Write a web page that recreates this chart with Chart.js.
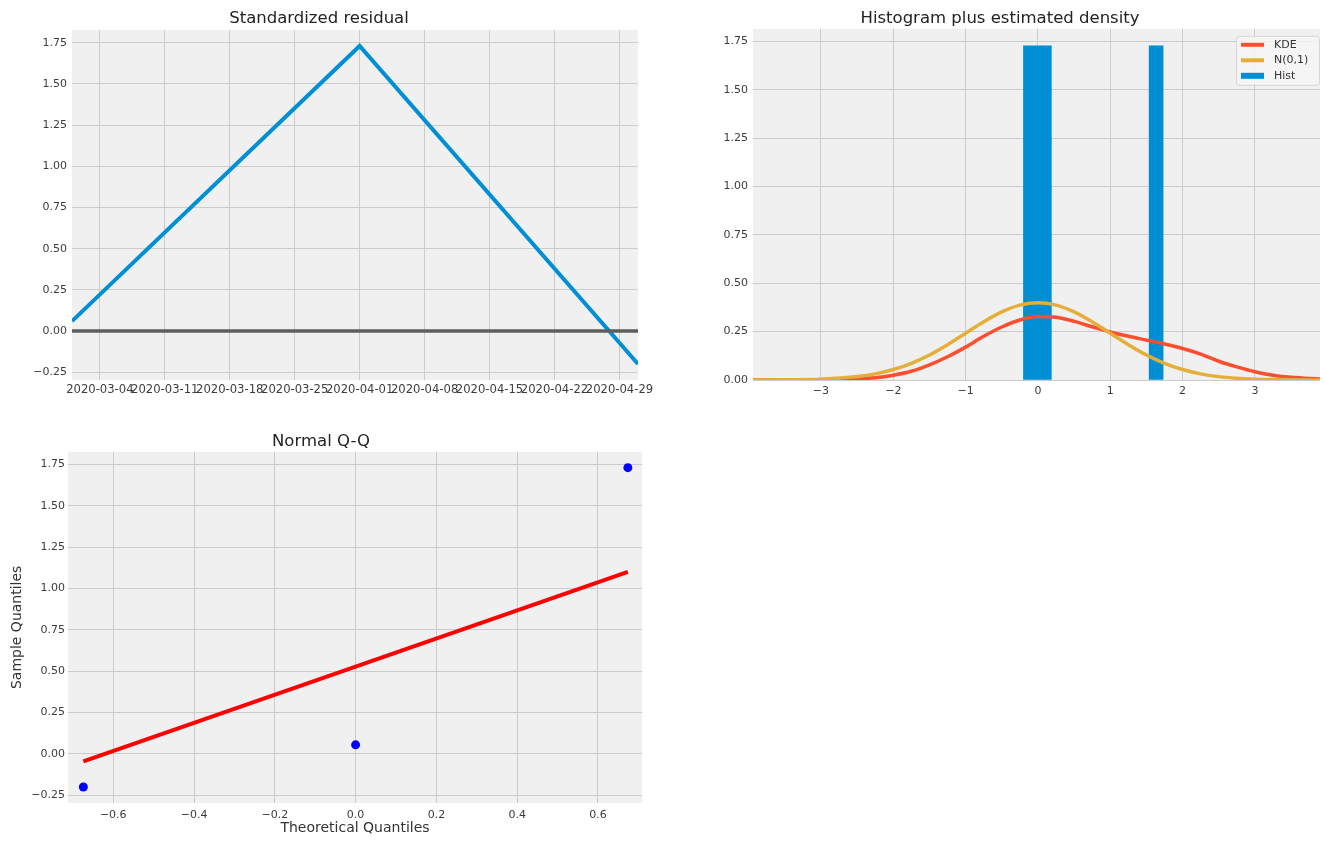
<!DOCTYPE html>
<html>
<head>
<meta charset="utf-8">
<script src="https://cdn.jsdelivr.net/npm/chart.js@4.4.1/dist/chart.umd.min.js"></script>
<style>
  html, body { margin: 0; padding: 0; background: #fff; }
  body { width: 1325px; height: 841px; position: relative; overflow: hidden; }
  .box { position: absolute; }
  #residBox { left: 0; top: 0; width: 660px; height: 400px; }
  #histBox { left: 680px; top: 0; width: 645px; height: 400px; }
  #qqBox { left: 0; top: 420px; width: 660px; height: 421px; }
</style>
</head>
<body>
<div class="box" id="residBox"><canvas id="resid"></canvas></div>
<div class="box" id="histBox"><canvas id="hist"></canvas></div>
<div class="box" id="qqBox"><canvas id="qq"></canvas></div>
<script>
// --- standardized residual
const residDates = ['2020-03-01', '2020-04-01', '2020-05-01'];
const residValues = [0.06, 1.73, -0.20];
const zeroValues = [0, 0];
const dateTicks = ['2020-03-04', '2020-03-11', '2020-03-18', '2020-03-25', '2020-04-01',
                   '2020-04-08', '2020-04-15', '2020-04-22', '2020-04-29'];
const residTicks = [-0.25, 0, 0.25, 0.5, 0.75, 1, 1.25, 1.5, 1.75];

// --- histogram plus estimated density
const histBinCenters = [-0.104, 0.089, 0.283, 0.476, 0.669, 0.862, 1.055, 1.248, 1.441, 1.634];
const histDensity = [1.727, 1.727, 0, 0, 0, 0, 0, 0, 0, 1.727];
const densityX = [-3.94, -3.5, -3, -2.5, -2.25, -2, -1.75, -1.5, -1.25, -1, -0.75, -0.5, -0.25, 0,
                  0.25, 0.5, 0.75, 1, 1.25, 1.5, 1.75, 2, 2.25, 2.5, 2.75, 3, 3.25, 3.5, 3.9];
const kdeValues = [0, 0.0002, 0.001, 0.006, 0.012, 0.025, 0.045, 0.078, 0.12, 0.17, 0.226, 0.274, 0.31, 0.328,
                   0.324, 0.303, 0.275, 0.248, 0.226, 0.206, 0.186, 0.163, 0.134, 0.097, 0.068, 0.043, 0.025, 0.014, 0.005];
const normValues = [0.0002, 0.0009, 0.0044, 0.0175, 0.0317, 0.054, 0.0863, 0.1295, 0.1826, 0.242, 0.3011, 0.3521, 0.3867, 0.3989,
                    0.3867, 0.3521, 0.3011, 0.242, 0.1826, 0.1295, 0.0863, 0.054, 0.0317, 0.0175, 0.0091, 0.0044, 0.002, 0.0009, 0.0002];
const histXTicks = [-3, -2, -1, 0, 1, 2, 3];
const histYTicks = [0, 0.25, 0.5, 0.75, 1, 1.25, 1.5, 1.75];

// --- normal Q-Q
const qqTheoretical = [-0.674, 0, 0.674];
const qqSample = [-0.20, 0.055, 1.73];
const qqLineX = [-0.674, 0.674];
const qqLineY = [-0.045, 1.10];
const qqXTicks = [-0.6, -0.4, -0.2, 0, 0.2, 0.4, 0.6];
const qqYTicks = [-0.25, 0, 0.25, 0.5, 0.75, 1, 1.25, 1.5, 1.75];

const FONT = "'DejaVu Sans', 'Liberation Sans', sans-serif";
const GRID = '#cbcbcb';
Chart.defaults.font.family = FONT;
Chart.defaults.color = '#3c3c3c';
Chart.defaults.animation = false;

const fmtNum = (v, d) => (v < 0 ? '\u2212' : '') + Math.abs(v).toFixed(d);
const dayNum = s => (Date.parse(s) - Date.parse(residDates[0])) / 86400000;

// pin axis box sizes so chart areas sit where the reference has them
function fixSize(size) {
  return function (scale) {
    if (scale.isHorizontal()) scale.height = size; else scale.width = size;
    scale.paddingLeft = scale.paddingRight = scale.paddingTop = scale.paddingBottom = 0;
  };
}
function setTicks(values) {
  return function (scale) { scale.ticks = values.map(v => ({ value: v })); };
}
function axis(opts) {
  return {
    type: 'linear',
    min: opts.min,
    max: opts.max,
    offset: false,
    afterBuildTicks: setTicks(opts.ticks),
    afterFit: fixSize(opts.size),
    grid: { color: GRID, lineWidth: 1, drawTicks: false, offset: false },
    border: { display: false },
    title: opts.title || { display: false },
    ticks: {
      padding: opts.pad, autoSkip: false, maxRotation: 0, minRotation: 0,
      font: { size: opts.fontSize || 11 }, color: '#3c3c3c',
      callback: opts.label
    }
  };
}
function titleOpts(text, top, bottom) {
  return { display: true, text: text, color: '#222', font: { size: 16.5, weight: 'normal' }, padding: { top: top, bottom: bottom } };
}

const axesBg = {
  id: 'axesBg',
  beforeDraw(chart) {
    const { ctx, chartArea: a } = chart;
    ctx.save();
    ctx.fillStyle = '#f0f0f0';
    ctx.fillRect(a.left, a.top, a.width, a.height);
    ctx.restore();
  }
};

// matplotlib style legend inside the upper right corner
const innerLegend = {
  id: 'innerLegend',
  afterDatasetsDraw(chart) {
    const { ctx, chartArea: a } = chart;
    const items = chart.data.datasets.filter(d => d.label).sort((p, q) => p.legendRank - q.legendRank);
    const x0 = a.right - 84, y0 = a.top + 7, w = 83, h = 49;
    ctx.save();
    ctx.fillStyle = 'rgba(246,246,246,0.85)';
    ctx.strokeStyle = '#d6d6d6';
    ctx.lineWidth = 1;
    ctx.beginPath();
    ctx.roundRect(x0 + 0.5, y0 + 0.5, w, h, 3);
    ctx.fill();
    ctx.stroke();
    ctx.font = '11px ' + FONT;
    ctx.textBaseline = 'middle';
    items.forEach((ds, k) => {
      const y = y0 + 9 + k * 15.5;
      if (ds.type === 'bar') {
        ctx.fillStyle = ds.backgroundColor;
        ctx.fillRect(x0 + 5, y - 3, 23, 6);
      } else {
        ctx.strokeStyle = ds.borderColor;
        ctx.lineWidth = 4;
        ctx.beginPath();
        ctx.moveTo(x0 + 5, y);
        ctx.lineTo(x0 + 28, y);
        ctx.stroke();
      }
      ctx.fillStyle = '#333';
      ctx.fillText(ds.label, x0 + 38, y);
    });
    ctx.restore();
  }
};

new Chart(document.getElementById('resid'), {
  type: 'line',
  plugins: [axesBg],
  data: {
    datasets: [{
      data: residDates.map((d, i) => ({ x: dayNum(d), y: residValues[i] })),
      borderColor: '#008fd5',
      borderWidth: 4,
      pointRadius: 0,
      clip: 0,
      order: 2
    }, {
      data: [residDates[0], residDates[residDates.length - 1]].map((d, i) => ({ x: dayNum(d), y: zeroValues[i] })),
      borderColor: '#5e5e5e',
      borderWidth: 3.5,
      pointRadius: 0,
      clip: 0,
      order: 1
    }]
  },
  options: {
    responsive: true,
    maintainAspectRatio: false,
    layout: { padding: { right: 22 } },
    scales: {
      x: axis({ min: dayNum(residDates[0]), max: dayNum(residDates[residDates.length - 1]),
                ticks: dateTicks.map(dayNum), size: 20, pad: 3, fontSize: 11.6, label: (v, i) => dateTicks[i] }),
      y: axis({ min: -0.297, max: 1.827, ticks: residTicks, size: 72, pad: 5, label: v => fmtNum(v, 2) })
    },
    plugins: {
      legend: { display: false },
      tooltip: { enabled: false },
      title: titleOpts('Standardized residual', 9, 1.2)
    }
  }
});

// only the filled bins become bars; bar width follows the bin spacing
const histBars = histBinCenters.map((x, i) => ({ x: x, y: histDensity[i] })).filter(p => p.y > 0);

new Chart(document.getElementById('hist'), {
  type: 'line',
  plugins: [axesBg, innerLegend],
  data: {
    datasets: [{
      type: 'bar',
      label: 'Hist',
      legendRank: 3,
      data: histBars,
      backgroundColor: '#008fd5',
      borderWidth: 0,
      barPercentage: 1,
      categoryPercentage: 1,
      order: 3
    }, {
      label: 'KDE',
      legendRank: 1,
      data: densityX.map((x, i) => ({ x: x, y: kdeValues[i] })),
      borderColor: '#fc4f30',
      borderWidth: 3.5,
      pointRadius: 0,
      cubicInterpolationMode: 'monotone',
      clip: 0,
      order: 2
    }, {
      label: 'N(0,1)',
      legendRank: 2,
      data: densityX.map((x, i) => ({ x: x, y: normValues[i] })),
      borderColor: '#e5ae38',
      borderWidth: 3.5,
      pointRadius: 0,
      cubicInterpolationMode: 'monotone',
      clip: 0,
      order: 1
    }]
  },
  options: {
    responsive: true,
    maintainAspectRatio: false,
    layout: { padding: { right: 5 } },
    scales: {
      x: axis({ min: -3.94, max: 3.9, ticks: histXTicks, size: 20, pad: 5, label: v => fmtNum(v, 0) }),
      y: axis({ min: 0, max: 1.815, ticks: histYTicks, size: 73, pad: 5, label: v => fmtNum(v, 2) })
    },
    plugins: {
      legend: { display: false },
      tooltip: { enabled: false },
      title: titleOpts('Histogram plus estimated density', 9, 0)
    }
  }
});

new Chart(document.getElementById('qq'), {
  type: 'line',
  plugins: [axesBg],
  data: {
    datasets: [{
      data: qqTheoretical.map((x, i) => ({ x: x, y: qqSample[i] })),
      showLine: false,
      pointRadius: 4.5,
      pointBackgroundColor: '#0000ff',
      pointBorderWidth: 0,
      clip: 0,
      order: 2
    }, {
      data: qqLineX.map((x, i) => ({ x: x, y: qqLineY[i] })),
      borderColor: '#ff0000',
      borderWidth: 4,
      pointRadius: 0,
      clip: 0,
      order: 1
    }]
  },
  options: {
    responsive: true,
    maintainAspectRatio: false,
    layout: { padding: { right: 18 } },
    scales: {
      x: axis({ min: -0.712, max: 0.709, ticks: qqXTicks, size: 38, pad: 6, label: v => fmtNum(v, 1),
                title: { display: true, text: 'Theoretical Quantiles', color: '#333', font: { size: 14 }, padding: { top: 0, bottom: 4.6 } } }),
      y: axis({ min: -0.2965, max: 1.8265, ticks: qqYTicks, size: 68, pad: 3, label: v => fmtNum(v, 2),
                title: { display: true, text: 'Sample Quantiles', color: '#333', font: { size: 14 }, padding: { top: 8.6, bottom: 0 } } })
    },
    plugins: {
      legend: { display: false },
      tooltip: { enabled: false },
      title: titleOpts('Normal Q-Q', 11.8, 0.1)
    }
  }
});
</script>
</body>
</html>
